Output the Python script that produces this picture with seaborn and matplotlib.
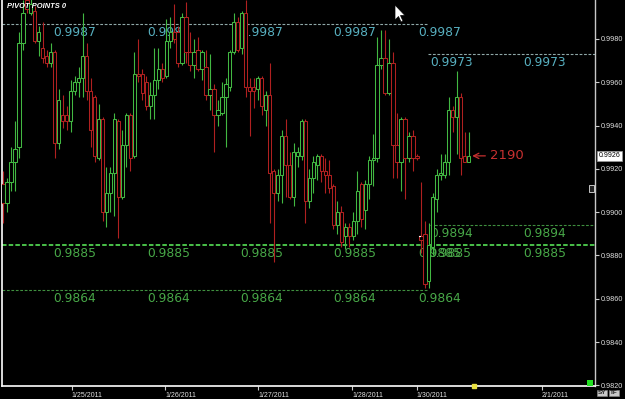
import numpy as np
import pandas as pd
import matplotlib
matplotlib.use("Agg")
import matplotlib.pyplot as plt
import matplotlib.transforms as mtransforms
from matplotlib.patches import Polygon, Rectangle
import seaborn as sns

# ---------------- data (hourly candles) ----------------
opens = [0.9913, 0.9904, 0.9914, 0.9923, 0.9930, 0.9978, 0.9998, 0.9992, 0.9993, 0.9979,
         0.9976, 0.9972, 0.9969, 0.9974, 0.9932, 0.9945, 0.9945, 0.9942, 0.9956, 0.9960,
         0.9962, 0.9972, 0.9956, 0.9953, 0.9925, 0.9943, 0.9900, 0.9909, 0.9918, 0.9942,
         0.9907, 0.9931, 0.9945, 0.9926, 0.9964, 0.9964, 0.9960, 0.9949, 0.9954, 0.9961,
         0.9966, 0.9963, 0.9979, 0.9983, 0.9983, 0.9969, 0.9990, 0.9974, 0.9968, 0.9975,
         0.9966, 0.9967, 0.9954, 0.9957, 0.9945, 0.9946, 0.9953, 0.9958, 0.9974, 0.9988,
         0.9976, 0.9992, 0.9958, 0.9958, 0.9957, 0.9962, 0.9947, 0.9954, 0.9919, 0.9909,
         0.9917, 0.9935, 0.9922, 0.9907, 0.9926, 0.9926, 0.9942, 0.9905, 0.9916, 0.9922,
         0.9926, 0.9919, 0.9917, 0.9912, 0.9894, 0.9900, 0.9889, 0.9893, 0.9889, 0.9896,
         0.9913, 0.9901, 0.9913, 0.9924, 0.9925, 0.9968, 0.9971, 0.9955, 0.9969, 0.9931,
         0.9923, 0.9943, 0.9925, 0.9935, 0.9926, 0.9889, 0.9890, 0.9868, 0.9884, 0.9906,
         0.9917, 0.9917, 0.9923, 0.9947, 0.9944, 0.9953, 0.9926, 0.9923]
highs = [0.9919, 0.9916, 0.9930, 0.9942, 0.9983, 0.9998, 1.0000, 0.9999, 0.9995, 0.9986,
         0.9988, 0.9975, 0.9978, 0.9975, 0.9957, 0.9954, 0.9949, 0.9961, 0.9963, 0.9967,
         0.9992, 0.9978, 0.9962, 0.9954, 0.9950, 0.9944, 0.9921, 0.9921, 0.9946, 0.9943,
         0.9938, 0.9946, 0.9946, 0.9974, 0.9980, 0.9966, 0.9963, 0.9960, 0.9976, 0.9976,
         0.9969, 0.9989, 0.9990, 0.9996, 0.9986, 0.9992, 0.9997, 0.9983, 0.9980, 0.9981,
         0.9975, 0.9975, 0.9973, 0.9959, 0.9952, 0.9960, 0.9962, 0.9975, 0.9992, 0.9990,
         0.9993, 0.9998, 0.9962, 0.9962, 0.9963, 0.9963, 0.9956, 0.9969, 0.9920, 0.9920,
         0.9938, 0.9943, 0.9928, 0.9932, 0.9930, 0.9943, 0.9943, 0.9920, 0.9926, 0.9927,
         0.9927, 0.9925, 0.9924, 0.9913, 0.9905, 0.9903, 0.9895, 0.9895, 0.9900, 0.9919,
         0.9914, 0.9915, 0.9926, 0.9936, 0.9981, 0.9984, 0.9984, 0.9980, 0.9974, 0.9946,
         0.9944, 0.9944, 0.9937, 0.9938, 0.9927, 0.9914, 0.9896, 0.9895, 0.9909, 0.9920,
         0.9927, 0.9927, 0.9953, 0.9949, 0.9965, 0.9955, 0.9937, 0.9937]
lows = [0.9895, 0.9900, 0.9910, 0.9910, 0.9925, 0.9975, 0.9992, 0.9991, 0.9978, 0.9972,
        0.9969, 0.9967, 0.9967, 0.9925, 0.9929, 0.9939, 0.9938, 0.9937, 0.9954, 0.9953,
        0.9953, 0.9952, 0.9930, 0.9923, 0.9924, 0.9896, 0.9893, 0.9900, 0.9898, 0.9888,
        0.9906, 0.9921, 0.9919, 0.9925, 0.9960, 0.9952, 0.9947, 0.9943, 0.9943, 0.9957,
        0.9960, 0.9962, 0.9976, 0.9978, 0.9967, 0.9968, 0.9969, 0.9965, 0.9962, 0.9965,
        0.9961, 0.9952, 0.9947, 0.9928, 0.9940, 0.9945, 0.9930, 0.9956, 0.9973, 0.9974,
        0.9973, 0.9953, 0.9935, 0.9948, 0.9952, 0.9945, 0.9940, 0.9895, 0.9877, 0.9905,
        0.9904, 0.9907, 0.9906, 0.9903, 0.9921, 0.9924, 0.9895, 0.9902, 0.9909, 0.9915,
        0.9914, 0.9909, 0.9909, 0.9892, 0.9890, 0.9884, 0.9883, 0.9884, 0.9887, 0.9890,
        0.9893, 0.9892, 0.9906, 0.9912, 0.9923, 0.9966, 0.9954, 0.9954, 0.9916, 0.9916,
        0.9910, 0.9906, 0.9923, 0.9919, 0.9924, 0.9881, 0.9865, 0.9865, 0.9880, 0.9900,
        0.9915, 0.9916, 0.9917, 0.9937, 0.9927, 0.9917, 0.9923, 0.9923]
closes = [0.9904, 0.9914, 0.9923, 0.9929, 0.9978, 0.9992, 0.9994, 0.9996, 0.9979, 0.9983,
          0.9971, 0.9969, 0.9974, 0.9932, 0.9952, 0.9942, 0.9942, 0.9956, 0.9960, 0.9962,
          0.9972, 0.9956, 0.9938, 0.9926, 0.9943, 0.9900, 0.9909, 0.9918, 0.9943, 0.9907,
          0.9931, 0.9945, 0.9925, 0.9964, 0.9963, 0.9955, 0.9949, 0.9954, 0.9961, 0.9966,
          0.9962, 0.9979, 0.9983, 0.9980, 0.9969, 0.9990, 0.9974, 0.9968, 0.9974, 0.9966,
          0.9974, 0.9954, 0.9957, 0.9945, 0.9947, 0.9953, 0.9959, 0.9974, 0.9988, 0.9975,
          0.9992, 0.9958, 0.9956, 0.9956, 0.9962, 0.9949, 0.9954, 0.9918, 0.9909, 0.9917,
          0.9935, 0.9922, 0.9907, 0.9928, 0.9928, 0.9942, 0.9905, 0.9916, 0.9923, 0.9926,
          0.9919, 0.9917, 0.9911, 0.9894, 0.9900, 0.9886, 0.9893, 0.9889, 0.9896, 0.9910,
          0.9897, 0.9913, 0.9924, 0.9925, 0.9968, 0.9971, 0.9955, 0.9969, 0.9931, 0.9923,
          0.9943, 0.9925, 0.9935, 0.9925, 0.9925, 0.9887, 0.9867, 0.9885, 0.9907, 0.9917,
          0.9918, 0.9923, 0.9947, 0.9944, 0.9953, 0.9925, 0.9923, 0.9926]

pivot_old = [0.9987, 0.9885, 0.9864]          # previous pivot set
pivot_new = [0.9973, 0.9894, 0.9885]          # current pivot set
date_labels = ["1/25/2011", "1/26/2011", "1/27/2011", "1/28/2011", "1/30/2011", "2/1/2011"]
date_tick_bars = [17.3, 40.7, 64.1, 87.7, 104.0, 135.4]
y_ticks = [0.9820, 0.9840, 0.9860, 0.9880, 0.9900, 0.9920, 0.9940, 0.9960, 0.9980]
note_text = "2190"
title_text = "PIVOT POINTS 0"

# ---------------- styling ----------------
GREEN = "#42b842"
RED = "#b02020"
CYAN = "#58b0c0"
LGREEN = "#48a848"

sns.set_theme(style="dark", rc={"axes.facecolor": "black", "figure.facecolor": "black",
                                "axes.grid": False})
plt.rcParams["font.family"] = ["Liberation Sans", "DejaVu Sans"]

W, H = 625, 399
fig = plt.figure(figsize=(W / 100, H / 100), dpi=100)
ax = fig.add_axes([2 / W, 13 / H, 593 / W, 386 / H])
ax.set_facecolor("black")

PPB = 3.98  # pixels per bar
def px2bar(px):
    return (px - 3) / PPB

ax.set_xlim(px2bar(2), px2bar(595))
ax.set_ylim(0.98197, 0.9998)

df = pd.DataFrame({"o": opens, "h": highs, "l": lows, "c": closes})
df["i"] = np.arange(len(df))
up = df["c"] >= df["o"]
cols = np.where(up, GREEN, RED)

ax.vlines(df["i"], df["l"], df["h"], colors=cols, linewidth=0.8, zorder=3)
bottom = np.minimum(df["o"], df["c"])
height = np.maximum((df["c"] - df["o"]).abs(), 0.00003)
ax.bar(df["i"], height, bottom=bottom, width=0.82, facecolor="black",
       edgecolor=cols, linewidth=0.75, zorder=4)

# ---------------- pivot lines + labels ----------------
split = px2bar(428)
xl, xr = ax.get_xlim()
ax.hlines(pivot_old[0], xl, split, colors="#8fa8a8", linestyles=(0, (2.5, 1.5)), lw=0.8, zorder=1)
ax.hlines(pivot_old[2], xl, split, colors="#3f8f3f", linestyles=(0, (2.5, 1.5)), lw=0.8, zorder=1)
ax.hlines(pivot_old[1], xl, xr, colors="#4fd04f", linestyles=(0, (2.5, 1.2)), lw=1.3, zorder=1)
ax.hlines(pivot_new[0], split, xr, colors="#8fa8a8", linestyles=(0, (2.5, 1.5)), lw=0.8, zorder=1)
ax.hlines(pivot_new[1], px2bar(430), xr, colors="#3f8f3f", linestyles=(0, (2.5, 1.5)), lw=0.8, zorder=1)

old_lab_px = [53, 147, 240, 333, 418]
new_lab_px = [430, 523]
lab_kw = dict(textcoords="offset points", xytext=(0, -1.5), va="top", ha="left",
              fontsize=8.8, family=["DejaVu Sans"], zorder=2)
for px in old_lab_px:
    ax.annotate(f"{pivot_old[0]:.4f}", (px2bar(px), pivot_old[0]), color=CYAN, **lab_kw)
    ax.annotate(f"{pivot_old[1]:.4f}", (px2bar(px), pivot_old[1]), color=LGREEN, **lab_kw)
    ax.annotate(f"{pivot_old[2]:.4f}", (px2bar(px), pivot_old[2]), color=LGREEN, **lab_kw)
for k, px in enumerate(new_lab_px):
    ax.annotate(f"{pivot_new[0]:.4f}", (px2bar(px), pivot_new[0]), color=CYAN, **lab_kw)
    ax.annotate(f"{pivot_new[1]:.4f}", (px2bar(px), pivot_new[1]), color=LGREEN, **lab_kw)
    ax.annotate(f"{pivot_new[2]:.4f}", (px2bar(px + (-2 if k == 0 else 0)), pivot_new[2]),
                color=LGREEN, **lab_kw)

# ---------------- axes ----------------
ax.spines["top"].set_visible(False)
ax.spines["left"].set_color("white")
ax.spines["left"].set_linewidth(1.2)
ax.spines["bottom"].set_color("white")
ax.spines["bottom"].set_linewidth(1.2)
ax.spines["right"].set_color("#c8c8c8")
ax.spines["right"].set_linewidth(1.0)

ax.yaxis.tick_right()
ax.set_yticks(y_ticks)
ax.set_yticklabels([f"{v:.4f}" for v in y_ticks])
ax.tick_params(axis="y", which="both", right=True, left=False, direction="out", length=3,
               width=0.8, color="#cccccc", labelcolor="#e0e0e0", labelsize=5.2, pad=1)
ax.set_xticks(date_tick_bars)
ax.set_xticklabels(date_labels, ha="left")
ax.tick_params(axis="x", bottom=True, direction="out", length=3, width=0.8,
               color="#cccccc", labelcolor="#e0e0e0", labelsize=5, pad=1.2)

# current price box
blend = mtransforms.blended_transform_factory(ax.transAxes, ax.transData)
ax.text(1.006, closes[-1], f"{closes[-1]:.4f}", transform=blend, fontsize=5, color="black",
        va="center", ha="left", clip_on=False,
        bbox=dict(facecolor="white", edgecolor="#999999", pad=0.9, lw=0.5), zorder=6)

# note with arrow
last = len(closes) - 1
ax.annotate(note_text, xy=(last + 0.9, closes[-1]), xytext=(px2bar(490), closes[-1]),
            color="#c83030", fontsize=9.5, va="center", ha="left", family=["DejaVu Sans"],
            arrowprops=dict(arrowstyle="->", color="#c83030", lw=0.9,
                            shrinkA=1, shrinkB=0), zorder=6)

# small session marks
ax.plot([105 - 0.55, 105 - 0.15], [opens[105], opens[105]], color="white", lw=0.9, zorder=5)
ax.plot([104 - 0.55, 104 - 0.15], [closes[104], closes[104]], color=RED, lw=0.9, zorder=5)

# yellow marker on time axis
bx = mtransforms.blended_transform_factory(ax.transData, ax.transAxes)
ax.plot([px2bar(474)], [0.0], marker="s", ms=2.2, color="#e8e040", transform=bx,
        clip_on=False, zorder=7)

# title
fig.text(7 / W, 1 - 7 / H, title_text, color="white", fontsize=5.4, fontweight="bold",
         style="italic", va="center", ha="left")

# decorations in pixel space
def P(x, y):
    return (x, H - y)
cursor = Polygon([P(395, 5), P(395, 20), P(398.5, 16.5), P(401, 22), P(403, 21),
                  P(400.5, 15.5), P(405, 15.5)], closed=True, transform=None,
                 facecolor="white", edgecolor="black", lw=0.5)
fig.patches.append(cursor)
fig.patches.append(Rectangle(P(587, 386), 6, 6, transform=None, facecolor="#22e022",
                             edgecolor="none"))
fig.patches.append(Rectangle(P(589, 192), 5, 7, transform=None, facecolor="#222222",
                             edgecolor="#e0e0e0", lw=0.6))
fig.text(598 / W, 1 - 393 / H, "SY", fontsize=4.6, color="#222222", fontweight="bold",
         va="center", ha="left", bbox=dict(facecolor="#c8c8c8", edgecolor="#888888", pad=0.6, lw=0.4))
fig.text(610 / W, 1 - 393 / H, "TF", fontsize=4.6, color="#222222", fontweight="bold",
         va="center", ha="left", bbox=dict(facecolor="#c8c8c8", edgecolor="#888888", pad=0.6, lw=0.4))

fig.savefig("out.png", dpi=100, facecolor="black")
